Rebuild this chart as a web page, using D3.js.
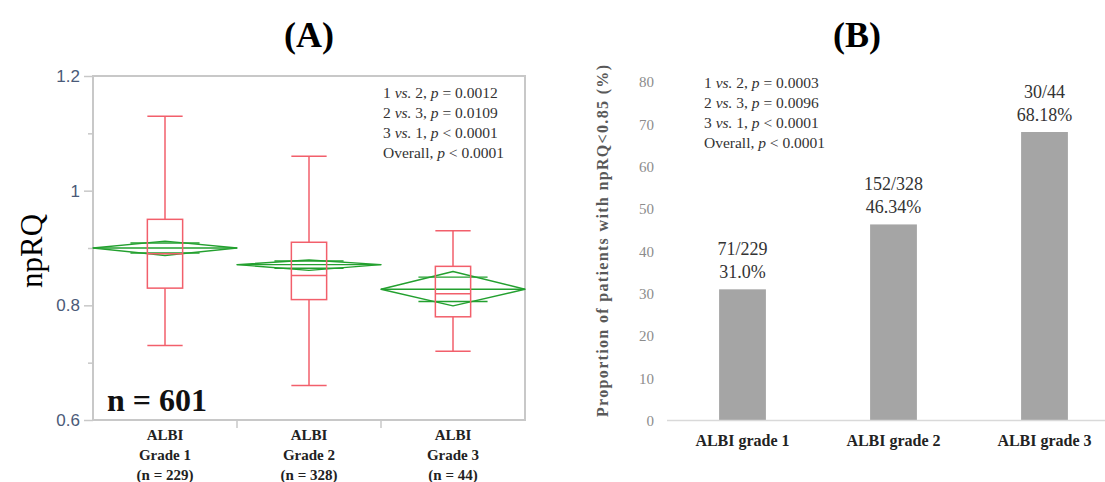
<!DOCTYPE html>
<html>
<head>
<meta charset="utf-8">
<script src="https://cdn.jsdelivr.net/npm/d3@7"></script>
<style>
  html, body { margin: 0; padding: 0; background: #ffffff; }
  svg { display: block; }
</style>
</head>
<body>
<svg id="chart" width="1105" height="482"></svg>
<script>
// ---------- Panel A data (box plots + means diamonds) ----------
const gradesA = ["ALBI Grade 1", "ALBI Grade 2", "ALBI Grade 3"];
const gradeLinesA = [["ALBI", "Grade 1", "(n = 229)"], ["ALBI", "Grade 2", "(n = 328)"], ["ALBI", "Grade 3", "(n = 44)"]];
const whiskerLow = [0.73, 0.66, 0.72];
const q1 = [0.83, 0.81, 0.78];
const medians = [0.89, 0.852, 0.82];
const q3 = [0.95, 0.91, 0.868];
const whiskerHigh = [1.13, 1.06, 0.93];
const means = [0.90, 0.871, 0.828];
const ciLow = [0.887, 0.861, 0.799];
const ciHigh = [0.912, 0.879, 0.859];
const yTicksA = [0.6, 0.8, 1.0, 1.2];
const yMinorTicksA = [0.7, 0.9, 1.1];
const pTextA = [["1 ", "vs.", " 2, ", "p", " = 0.0012"], ["2 ", "vs.", " 3, ", "p", " = 0.0109"], ["3 ", "vs.", " 1, ", "p", " < 0.0001"], ["Overall, ", "", "", "p", " < 0.0001"]];

// ---------- Panel B data (bar chart) ----------
const gradesB = ["ALBI grade 1", "ALBI grade 2", "ALBI grade 3"];
const proportions = [31.0, 46.34, 68.18];
const countLabels = ["71/229", "152/328", "30/44"];
const pctLabels = ["31.0%", "46.34%", "68.18%"];
const yTicksB = [0, 10, 20, 30, 40, 50, 60, 70, 80];
const pTextB = [["1 ", "vs.", " 2, ", "p", " = 0.0003"], ["2 ", "vs.", " 3, ", "p", " = 0.0096"], ["3 ", "vs.", " 1, ", "p", " < 0.0001"], ["Overall, ", "", "", "p", " < 0.0001"]];

const SERIF = "'Liberation Serif', 'Times New Roman', serif";
const SANS = "'Liberation Sans', Arial, sans-serif";
const RED = "#f25f6b";
const GREEN = "#23a02f";

const svg = d3.select("#chart");

// =============== PANEL A ===============
const xA = d3.scaleBand().domain(d3.range(gradesA.length)).range([93, 525]).padding(0);
const yA = d3.scaleLinear().domain([0.6, 1.2]).range([420, 76]);
const gA = svg.append("g");

gA.append("text").attr("x", 309).attr("y", 47).attr("text-anchor", "middle")
  .style("font-family", SERIF).style("font-weight", "bold").style("font-size", "36px").text("(A)");

gA.append("rect").attr("x", xA.range()[0]).attr("y", yA(1.2))
  .attr("width", xA.range()[1] - xA.range()[0]).attr("height", yA(0.6) - yA(1.2))
  .attr("fill", "none").attr("stroke", "#c8c8c8").attr("stroke-width", 2);

const axA = gA.append("g").attr("transform", `translate(${xA.range()[0]},0)`)
  .call(d3.axisLeft(yA).tickValues(yTicksA).tickSize(9).tickPadding(4)
    .tickFormat(d => d === 1 ? "1" : d3.format(".1f")(d)));
axA.select(".domain").remove();
axA.selectAll(".tick line").attr("stroke", "#c8c8c8").attr("stroke-width", 1.5);
axA.selectAll(".tick text").style("font-family", SANS).style("font-size", "17px").attr("fill", "#4a5a78");
const axAm = gA.append("g").attr("transform", `translate(${xA.range()[0]},0)`)
  .call(d3.axisLeft(yA).tickValues(yMinorTicksA).tickSize(5).tickFormat(""));
axAm.select(".domain").remove();
axAm.selectAll(".tick line").attr("stroke", "#c8c8c8").attr("stroke-width", 1.5);

gA.selectAll("line.sep").data(d3.range(1, gradesA.length)).join("line")
  .attr("x1", i => xA(i)).attr("x2", i => xA(i))
  .attr("y1", yA(0.6)).attr("y2", yA(0.6) + 8)
  .attr("stroke", "#c8c8c8").attr("stroke-width", 1.5);

gA.append("text").attr("transform", `translate(42,${(yA(1.2) + yA(0.6)) / 2 + 3}) rotate(-90)`)
  .attr("text-anchor", "middle").style("font-family", SERIF).style("font-size", "31px").text("npRQ");

const bw = xA.bandwidth();
const groupsA = d3.range(gradesA.length);
groupsA.forEach(i => {
  const x0 = xA(i), x1 = xA(i) + bw, cx = xA(i) + bw / 2;
  const m = yA(means[i]), hi = yA(ciHigh[i]), lo = yA(ciLow[i]);
  const g = gA.append("g");
  g.append("path")
    .attr("d", `M${x0},${m}L${cx},${hi}L${x1},${m}L${cx},${lo}Z`)
    .attr("fill", "none").attr("stroke", GREEN).attr("stroke-width", 1.4).attr("stroke-linejoin", "round");
  g.append("line").attr("x1", x0).attr("x2", x1).attr("y1", m).attr("y2", m)
    .attr("stroke", GREEN).attr("stroke-width", 1.4);
  const half = (ciHigh[i] - ciLow[i]) / 2 / Math.SQRT2;
  [means[i] + half, means[i] - half].forEach(v => {
    g.append("line").attr("x1", cx - bw * 0.24).attr("x2", cx + bw * 0.24)
      .attr("y1", yA(v)).attr("y2", yA(v)).attr("stroke", GREEN).attr("stroke-width", 1.4);
  });
});

const boxW = bw * 0.245;
groupsA.forEach(i => {
  const cx = xA(i) + bw / 2;
  const g = gA.append("g").attr("stroke", RED).attr("stroke-width", 1.5).attr("fill", "none");
  g.append("line").attr("x1", cx).attr("x2", cx).attr("y1", yA(whiskerHigh[i])).attr("y2", yA(q3[i]));
  g.append("line").attr("x1", cx).attr("x2", cx).attr("y1", yA(q1[i])).attr("y2", yA(whiskerLow[i]));
  [whiskerHigh[i], whiskerLow[i], medians[i]].forEach(v => {
    g.append("line").attr("x1", cx - boxW / 2).attr("x2", cx + boxW / 2).attr("y1", yA(v)).attr("y2", yA(v));
  });
  g.append("rect").attr("x", cx - boxW / 2).attr("y", yA(q3[i]))
    .attr("width", boxW).attr("height", yA(q1[i]) - yA(q3[i]));
});

groupsA.forEach(i => {
  const t = gA.append("text").attr("text-anchor", "middle")
    .style("font-family", SERIF).style("font-weight", "bold").style("font-size", "15px").attr("fill", "#222");
  gradeLinesA[i].forEach((ln, k) => {
    t.append("tspan").attr("x", xA(i) + bw / 2).attr("y", 440 + k * 20).text(ln);
  });
});

gA.append("text").attr("x", 107).attr("y", 411)
  .style("font-family", SERIF).style("font-weight", "bold").style("font-size", "32px").attr("fill", "#111")
  .text("n = 601");

function pBlock(g, x, y0, lines) {
  lines.forEach((parts, k) => {
    const t = g.append("text").attr("x", x).attr("y", y0 + k * 20)
      .style("font-family", SERIF).style("font-size", "15.5px").attr("fill", "#333");
    parts.forEach((p, j) => {
      if (!p) return;
      const ts = t.append("tspan").text(p);
      if (j === 1 || j === 3) ts.style("font-style", "italic");
    });
  });
}
pBlock(gA, 383, 98, pTextA);

// =============== PANEL B ===============
const xB = d3.scaleBand().domain(d3.range(gradesB.length)).range([667, 1120]).paddingInner(0.69).paddingOuter(0.345);
const yB = d3.scaleLinear().domain([0, 80]).range([420.5, 82]);
const gB = svg.append("g");

gB.append("text").attr("x", 857).attr("y", 47).attr("text-anchor", "middle")
  .style("font-family", SERIF).style("font-weight", "bold").style("font-size", "36px").text("(B)");

const axB = gB.append("g").attr("transform", "translate(667,0)")
  .call(d3.axisLeft(yB).tickValues(yTicksB).tickSize(0).tickPadding(13));
axB.select(".domain").remove();
axB.selectAll(".tick text").style("font-family", SERIF).style("font-size", "15px").attr("fill", "#8c8c8c");

gB.selectAll("rect.bar").data(proportions).join("rect")
  .attr("x", (d, i) => xB(i)).attr("width", xB.bandwidth())
  .attr("y", d => yB(d)).attr("height", d => yB(0) - yB(d))
  .attr("fill", "#a5a5a5");

gB.append("line").attr("x1", 667).attr("x2", 1105).attr("y1", yB(0)).attr("y2", yB(0))
  .attr("stroke", "#d9d9d9").attr("stroke-width", 1.5);

proportions.forEach((d, i) => {
  const cx = xB(i) + xB.bandwidth() / 2;
  gB.append("text").attr("x", cx).attr("y", yB(d) - 34).attr("text-anchor", "middle")
    .style("font-family", SERIF).style("font-size", "18px").attr("fill", "#333").text(countLabels[i]);
  gB.append("text").attr("x", cx).attr("y", yB(d) - 11).attr("text-anchor", "middle")
    .style("font-family", SERIF).style("font-size", "18px").attr("fill", "#333").text(pctLabels[i]);
});

gradesB.forEach((c, i) => {
  gB.append("text").attr("x", xB(i) + xB.bandwidth() / 2).attr("y", 446).attr("text-anchor", "middle")
    .style("font-family", SERIF).style("font-weight", "bold").style("font-size", "16px").attr("fill", "#222").text(c);
});

gB.append("text").attr("transform", "translate(608,241) rotate(-90)").attr("text-anchor", "middle")
  .attr("textLength", 352).attr("lengthAdjust", "spacing")
  .style("font-family", SERIF).style("font-weight", "bold").style("font-size", "16px").attr("fill", "#595959")
  .text("Proportion of patients with npRQ<0.85 (%)");

pBlock(gB, 704, 88, pTextB);
</script>
</body>
</html>
